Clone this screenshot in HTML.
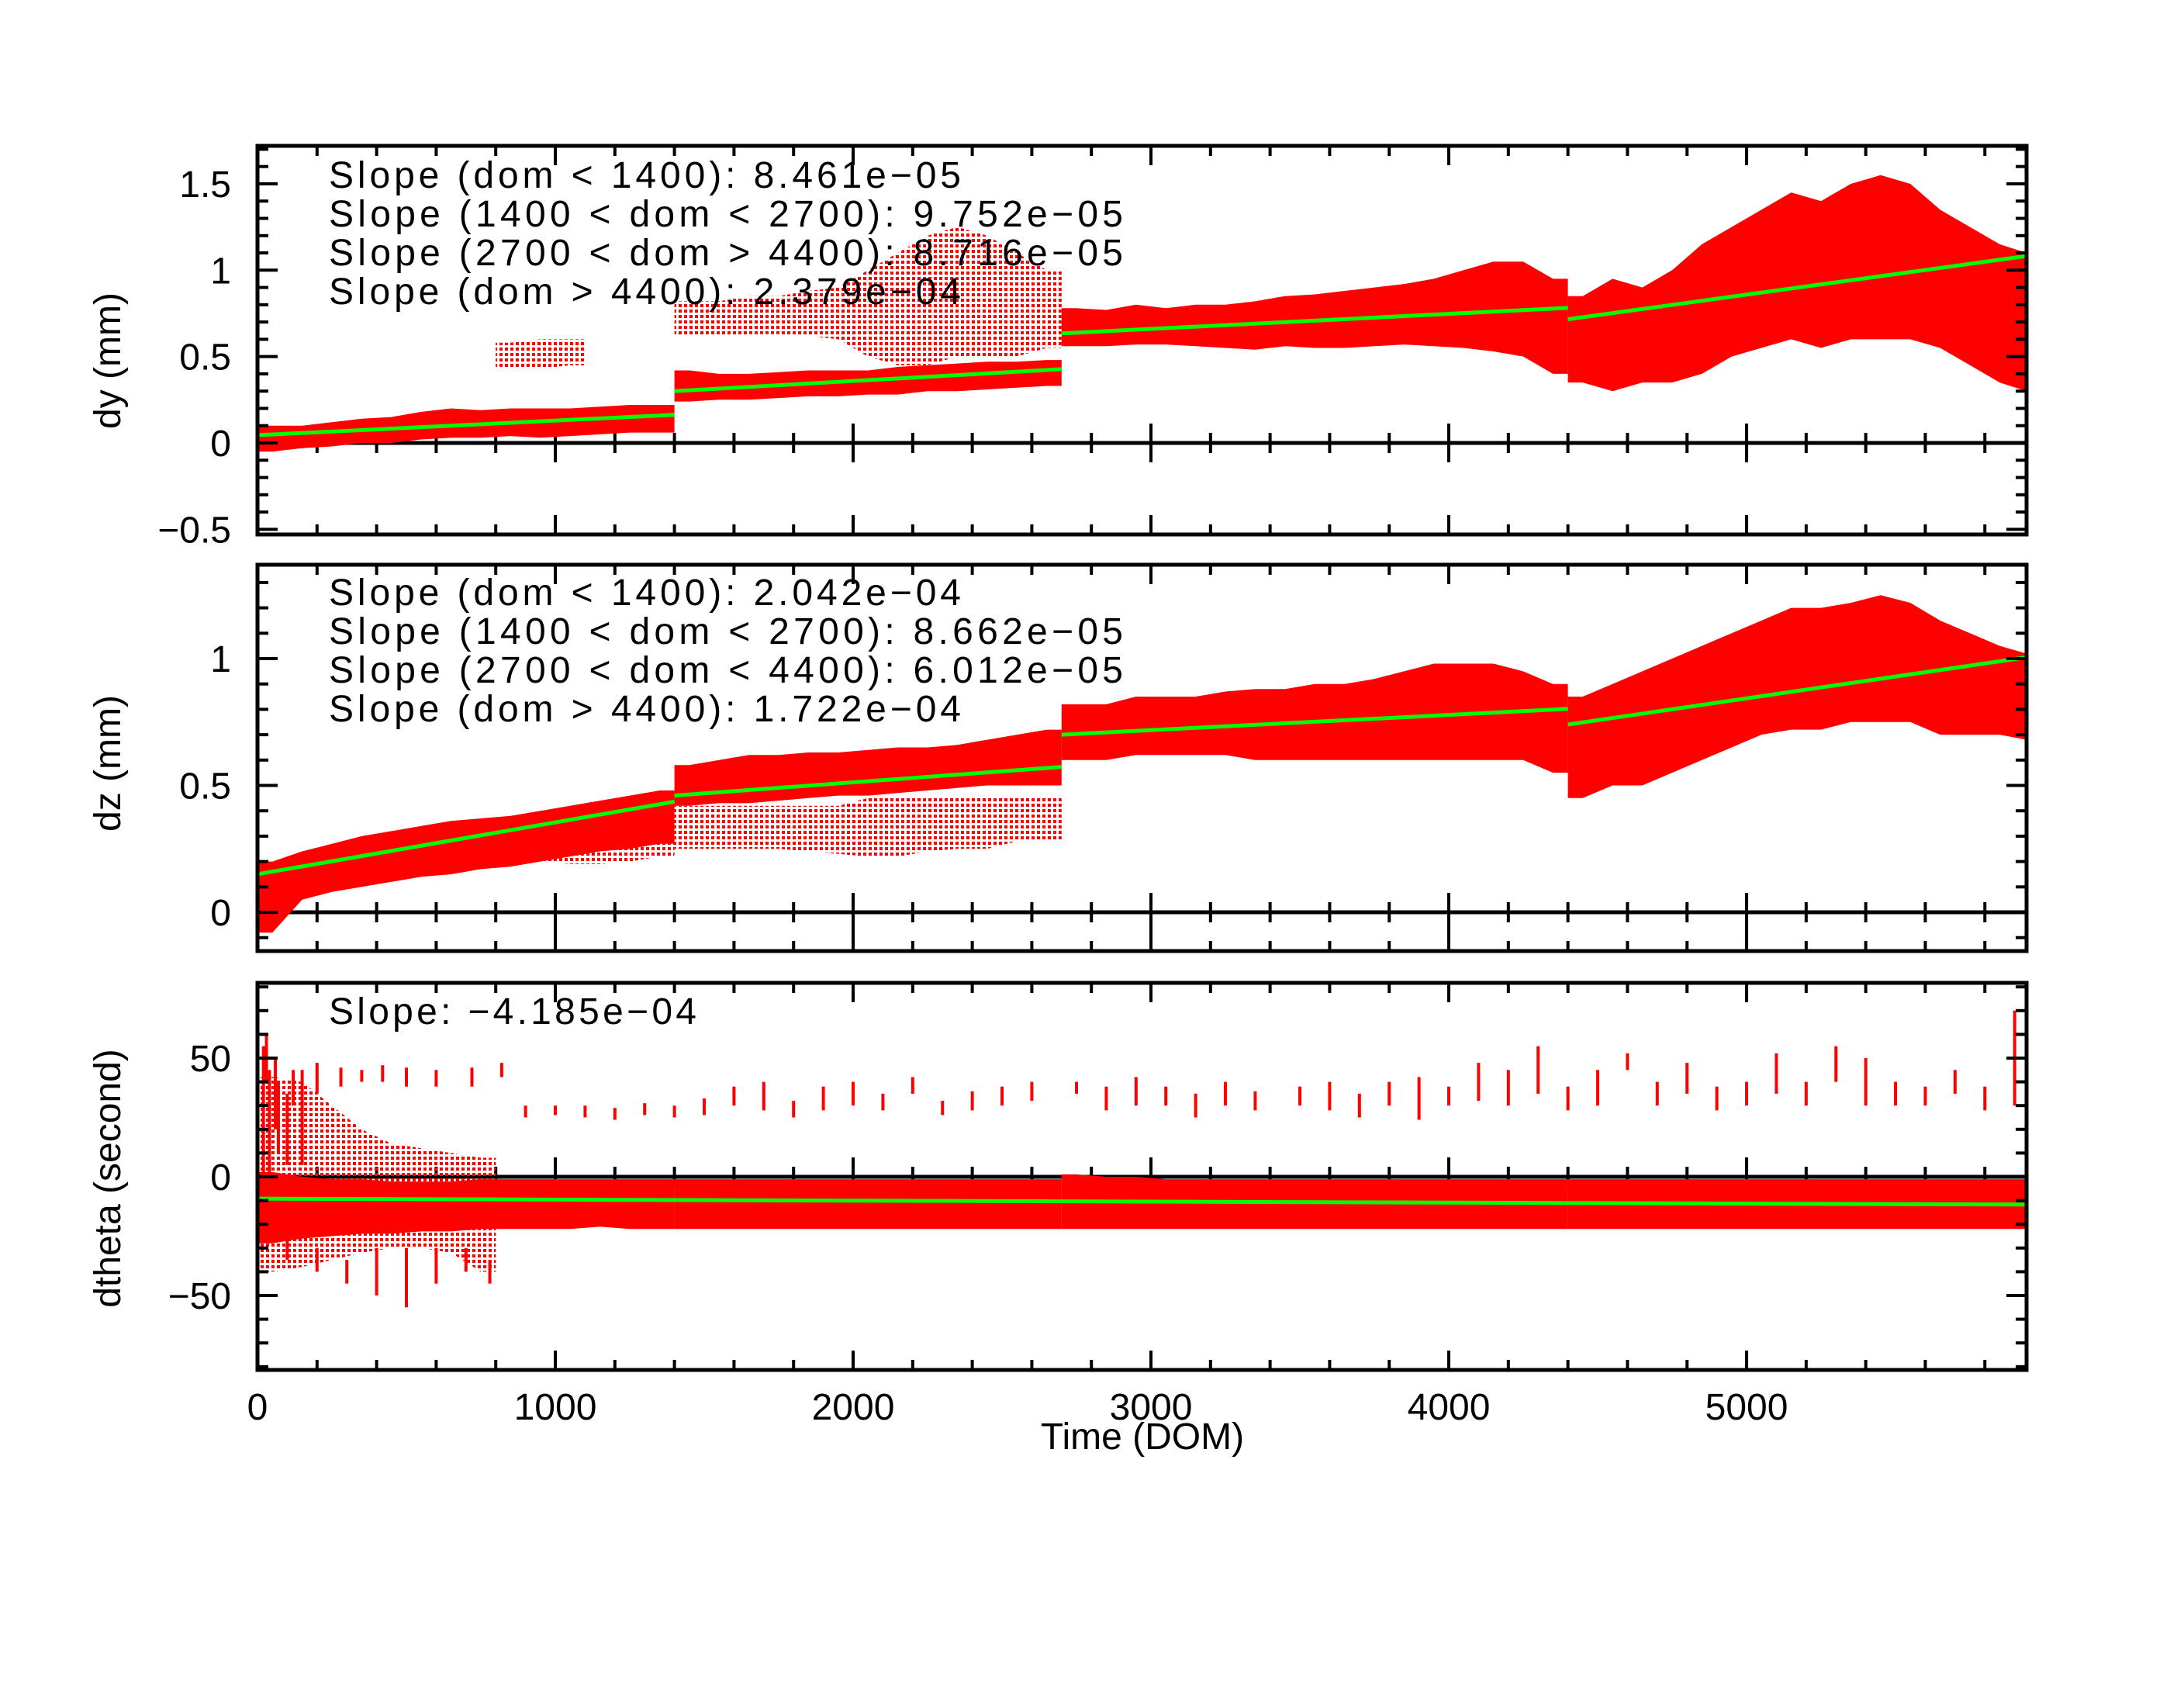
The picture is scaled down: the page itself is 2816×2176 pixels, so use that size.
<!DOCTYPE html>
<html><head><meta charset="utf-8">
<style>
html,body{margin:0;padding:0;background:#fff;}
svg{display:block;}
text{font-family:"Liberation Sans",sans-serif;fill:#000;}
</style></head>
<body>
<svg id="chart" width="2816" height="2176" viewBox="0 0 2816 2176" xmlns="http://www.w3.org/2000/svg">
<rect x="0" y="0" width="2816" height="2176" fill="#fff"/>
<g id="layer"></g>
</svg>
<script>
// ---- data (100-DOM bins, centers 50,150,...) ----
const binStart = 0, binWidth = 100;
const dyLo = [-0.05,-0.03,-0.02,0.0,0.0,0.02,0.03,0.03,0.04,0.03,0.04,0.05,0.06,0.06,
  0.24,0.25,0.25,0.26,0.27,0.27,0.28,0.28,0.3,0.3,0.31,0.32,0.33,
  0.56,0.56,0.57,0.57,0.56,0.55,0.54,0.56,0.55,0.55,0.56,0.57,0.56,0.55,0.53,0.5,0.4,
  0.35,0.3,0.35,0.35,0.4,0.5,0.55,0.6,0.55,0.6,0.6,0.6,0.55,0.45,0.35,0.3];
const dyHi = [0.1,0.1,0.12,0.14,0.15,0.18,0.2,0.19,0.2,0.2,0.2,0.21,0.22,0.22,
  0.42,0.4,0.4,0.41,0.42,0.42,0.42,0.44,0.45,0.46,0.47,0.47,0.48,
  0.78,0.77,0.8,0.78,0.8,0.8,0.82,0.85,0.86,0.88,0.9,0.92,0.95,1.0,1.05,1.05,0.95,
  0.85,0.95,0.9,1.0,1.15,1.25,1.35,1.45,1.4,1.5,1.55,1.5,1.35,1.25,1.15,1.1];
const dyCloudBins = [8,9,10,14,15,16,17,18,19,20,21,22,23,24,25,26];
const dyCloudLo = [0.43,0.43,0.45,0.62,0.62,0.63,0.63,0.62,0.6,0.5,0.45,0.45,0.5,0.5,0.5,0.55];
const dyCloudHi = [0.58,0.6,0.6,0.82,0.82,0.85,0.85,0.88,0.9,1.0,1.1,1.2,1.25,1.2,1.1,1.0];

const dzLo = [-0.08,0.05,0.08,0.1,0.12,0.14,0.15,0.17,0.18,0.2,0.22,0.24,0.25,0.27,
  0.42,0.43,0.43,0.44,0.45,0.46,0.46,0.47,0.48,0.49,0.5,0.5,0.5,
  0.6,0.6,0.62,0.62,0.62,0.62,0.6,0.6,0.6,0.6,0.6,0.6,0.6,0.6,0.6,0.6,0.55,
  0.45,0.5,0.5,0.55,0.6,0.65,0.7,0.72,0.72,0.75,0.75,0.75,0.7,0.7,0.7,0.68];
const dzHi = [0.2,0.24,0.27,0.3,0.32,0.34,0.36,0.37,0.38,0.4,0.42,0.44,0.46,0.48,
  0.58,0.6,0.62,0.62,0.63,0.63,0.64,0.65,0.65,0.66,0.68,0.7,0.72,
  0.82,0.82,0.85,0.85,0.85,0.87,0.88,0.88,0.9,0.9,0.92,0.95,0.98,0.98,0.98,0.95,0.9,
  0.85,0.9,0.95,1.0,1.05,1.1,1.15,1.2,1.2,1.22,1.25,1.22,1.15,1.1,1.05,1.02];
const dzCloudBins = [8,9,10,11,12,13,14,15,16,17,18,19,20,21,22,23,24,25,26];
const dzCloudLo = [0.2,0.2,0.19,0.19,0.2,0.22,0.25,0.25,0.25,0.25,0.24,0.23,0.22,0.22,0.24,0.25,0.25,0.28,0.28];
const dzCloudHi = [0.28,0.3,0.3,0.32,0.35,0.4,0.42,0.42,0.42,0.42,0.42,0.42,0.45,0.45,0.45,0.45,0.45,0.45,0.45];

const dthLo = [-28,-26,-25,-24,-24,-23,-23,-22,-22,-22,-22,-21,-22,-22,-22,-22,-22,-22,-22,-22,
  -22,-22,-22,-22,-22,-22,-22,-22,-22,-22,-22,-22,-22,-22,-22,-22,-22,-22,-22,-22,
  -22,-22,-22,-22,-22,-22,-22,-22,-22,-22,-22,-22,-22,-22,-22,-22,-22,-22,-22,-22];
const dthHi = [2,0,-1,-1,-2,-2,-2,-1,-1,-1,-1,-1,-1,-1,-1,-1,-1,-1,-1,-1,
  -1,-1,-1,-1,-1,-1,-1,1,0,0,-1,-1,-1,-1,-1,-1,-1,-1,-1,-1,
  -1,-1,-1,-1,-1,-1,-1,-1,-1,-1,-1,-1,-1,-1,-1,-1,-1,-1,-1,-1];
const dthCloudBins = [0,1,2,3,4,5,6,7];
const dthCloudLo = [-40,-38,-35,-32,-30,-30,-32,-40];
const dthCloudHi = [42,40,30,20,14,12,10,8];
const dthSpikeDom = [20,40,70,100,150,30,60,120,200,280,350,420,500,600,720,820,900,1000,1100,1200,1300,1400,1500,1600,1700,1800,1900,2000,2100,2200,2300,2400,2500,2600,2750,2850,2950,3050,3150,3250,3350,3500,3600,3700,3800,3900,4000,4100,4200,4300,4400,4500,4600,4700,4800,4900,5000,5100,5200,5300,5400,5500,5600,5700,5800,5900,
  100,200,300,400,500,600,700,780];
const dthSpikeLo = [0,-5,10,5,5,40,20,30,35,38,40,40,38,38,38,42,25,26,25,24,26,25,26,30,28,25,28,30,28,35,26,28,30,32,35,28,30,30,25,30,28,30,28,25,30,24,30,32,30,35,28,30,45,30,35,28,30,35,30,40,30,30,30,35,28,30,
  -35,-40,-45,-50,-55,-45,-40,-45];
const dthSpikeHi = [55,45,40,35,45,60,50,45,48,46,45,47,46,45,46,48,30,30,30,29,31,30,33,38,40,32,38,40,35,42,32,36,38,40,40,38,42,38,35,40,36,38,40,35,40,42,38,48,45,55,38,45,52,40,48,38,40,52,40,55,50,40,38,45,38,70,
  -20,-30,-35,-30,-30,-30,-30,-35];

const fitBreaks1 = [[0,1400,0.045,0.163],[1400,2700,0.30,0.427],[2700,4400,0.634,0.782],[4400,5940,0.716,1.082]];
const fitBreaks2 = [[0,1400,0.15,0.436],[1400,2700,0.46,0.573],[2700,4400,0.70,0.802],[4400,5940,0.74,1.005]];
const fitBreaks3 = [[0,5940,-9.2,-11.7]];

const xTicksMajor = [0,1000,2000,3000,4000,5000];
const xTickLabels = ["0","1000","2000","3000","4000","5000"];

// ---- geometry ----
const X0 = 332, XR = 2613, XMAX = 5940;
const sx = d => X0 + d * (XR - X0) / XMAX;
const panels = [
  {name:'dy', top:188, bot:689, y0:571, k:222.7, vmin:-0.53, vmax:1.72, major:0.5, minor:0.1, labels:[["−0.5",-0.5],["0",0],["0.5",0.5],["1",1],["1.5",1.5]], title:"dy (mm)", tcy:465},
  {name:'dz', top:728, bot:1226, y0:1176, k:327, vmin:-0.153, vmax:1.37, major:0.5, minor:0.1, labels:[["0",0],["0.5",0.5],["1",1]], title:"dz (mm)", tcy:984},
  {name:'dtheta', top:1267, bot:1766, y0:1517, k:3.06, vmin:-81.4, vmax:81.7, major:50, minor:10, labels:[["−50",-50],["0",0],["50",50]], title:"dtheta (second)", tcy:1519}
];
const NS = "http://www.w3.org/2000/svg";
const layer = document.getElementById('layer');
function mk(tag, attrs, parent){
  const e = document.createElementNS(NS, tag);
  for (const k in attrs) e.setAttribute(k, attrs[k]);
  (parent||layer).appendChild(e);
  return e;
}
function breakAt(b){ return b===14 || b===27 || b===44; }
function band(p, lo, hi, bins, parent, nm, dotted){
  const runs = [];
  let cur = null;
  for (let i=0;i<lo.length;i++){
    const b = bins ? bins[i] : i;
    if (cur && b === cur.last+1 && !breakAt(b)) { cur.idx.push(i); cur.last=b; }
    else { cur = {idx:[i], last:b}; runs.push(cur); }
  }
  runs.forEach(r=>{
    const top=[], bottom=[];
    const first = bins ? bins[r.idx[0]] : r.idx[0];
    const last = bins ? bins[r.idx[r.idx.length-1]] : r.idx[r.idx.length-1];
    const dStart = first*binWidth, dEnd = Math.min(XMAX,(last+1)*binWidth);
    top.push([sx(dStart), p.yv(hi[r.idx[0]])]);
    bottom.push([sx(dStart), p.yv(lo[r.idx[0]])]);
    r.idx.forEach(i=>{
      const b = bins ? bins[i] : i;
      const dc = Math.min(XMAX, b*binWidth + binWidth/2);
      top.push([sx(dc), p.yv(hi[i])]);
      bottom.push([sx(dc), p.yv(lo[i])]);
    });
    const li = r.idx[r.idx.length-1];
    top.push([sx(dEnd), p.yv(hi[li])]);
    bottom.push([sx(dEnd), p.yv(lo[li])]);
    const pts = top.concat(bottom.reverse()).map(q=>q[0].toFixed(1)+','+q[1].toFixed(1)).join(' ');
    const el = mk('polygon', {points:pts, fill: dotted ? 'url(#dots)' : '#ff0000'}, parent);
    
    
  });
}

const defs = mk('defs', {});
const pat = mk('pattern', {id:'dots', width:'7', height:'7', patternUnits:'userSpaceOnUse'}, defs);
mk('rect', {x:0,y:0,width:4,height:4,fill:'#ff0000'}, pat);

panels.forEach((p, pi)=>{
  p.yv = v => p.y0 - v * p.k;
  const g = mk('g', {});
  
  
  const clip = mk('clipPath', {id:'clip'+pi}, defs);
  mk('rect', {x:X0, y:p.top, width:XR-X0, height:p.bot-p.top}, clip);
  const zl = mk('line', {x1:X0, x2:XR, y1:p.y0, y2:p.y0, stroke:'#000', 'stroke-width':5}, g);
  
  
  for (let d=0; d<=XMAX; d+=200){
    const L = d%1000===0?25:13;
    mk('line', {x1:sx(d), x2:sx(d), y1:p.y0-L, y2:p.y0+L, stroke:'#000','stroke-width':4}, g);
  }
  const dg = mk('g', {'clip-path':'url(#clip'+pi+')'}, g);
  
  
  if (p.name==='dy'){
    band(p, dyCloudLo, dyCloudHi, dyCloudBins, dg, 'dy-outlier-cloud', true);
    band(p, dyLo, dyHi, null, dg, 'dy-scatter-band', false);
  } else if (p.name==='dz'){
    band(p, dzCloudLo, dzCloudHi, dzCloudBins, dg, 'dz-outlier-cloud', true);
    band(p, dzLo, dzHi, null, dg, 'dz-scatter-band', false);
  } else {
    band(p, dthCloudLo, dthCloudHi, dthCloudBins, dg, 'dtheta-early-cloud', true);
    for (let i=0;i<dthSpikeDom.length;i++){
      const y1 = p.yv(dthSpikeHi[i]), y2 = p.yv(dthSpikeLo[i]);
      const s = mk('rect', {x:sx(dthSpikeDom[i])-2, y:y1, width:4, height:y2-y1, fill:'#ff0000'}, dg);
      
      
    }
    band(p, dthLo, dthHi, null, dg, 'dtheta-scatter-band', false);
  }
  const fits = [fitBreaks1, fitBreaks2, fitBreaks3][pi];
  fits.forEach(f=>{
    const l = mk('line', {x1:sx(f[0]), x2:sx(f[1]), y1:p.yv(f[2]), y2:p.yv(f[3]), stroke:'#00ff00','stroke-width':5}, dg);
    
    
  });
  const fr = mk('rect', {x:X0, y:p.top, width:XR-X0, height:p.bot-p.top, fill:'none', stroke:'#000','stroke-width':5}, g);
  
  
  for (let d=0; d<=XMAX; d+=200){
    const L = d%1000===0?25:13;
    mk('line', {x1:sx(d), x2:sx(d), y1:p.top, y2:p.top+L, stroke:'#000','stroke-width':4}, g);
    mk('line', {x1:sx(d), x2:sx(d), y1:p.bot, y2:p.bot-L, stroke:'#000','stroke-width':4}, g);
  }
  const n0 = Math.ceil(p.vmin/p.minor - 1e-6), n1 = Math.floor(p.vmax/p.minor + 1e-6);
  for (let n=n0; n<=n1; n++){
    const v = n*p.minor;
    const maj = Math.abs(v/p.major - Math.round(v/p.major)) < 1e-6;
    const L = maj?26:14, y = p.yv(v);
    mk('line', {x1:X0, x2:X0+L, y1:y, y2:y, stroke:'#000','stroke-width':4}, g);
    mk('line', {x1:XR, x2:XR-L, y1:y, y2:y, stroke:'#000','stroke-width':4}, g);
  }
  p.labels.forEach(l=>{
    const t = mk('text', {x:298, y:p.yv(l[1])+17, 'text-anchor':'end', 'font-size':48}, g);
    t.textContent = l[0];
    
    
  });
  const tt = mk('text', {x:0, y:0, 'text-anchor':'middle', 'font-size':48, transform:'translate(155,'+p.tcy+') rotate(-90)'}, g);
  tt.textContent = p.title;
  
  
});

const ann1 = ["Slope (dom < 1400): 8.461e−05","Slope (1400 < dom < 2700): 9.752e−05","Slope (2700 < dom > 4400): 8.716e−05","Slope (dom > 4400): 2.379e−04"];
const ann2 = ["Slope (dom < 1400): 2.042e−04","Slope (1400 < dom < 2700): 8.662e−05","Slope (2700 < dom < 4400): 6.012e−05","Slope (dom > 4400): 1.722e−04"];
const annW = [815,1024,1024,815];
ann1.forEach((s,i)=>{
  const t = mk('text', {x:424, y:242+i*50, 'font-size':48, textLength:annW[i], lengthAdjust:'spacing'});
  t.textContent = s;
  
  
});
ann2.forEach((s,i)=>{
  const t = mk('text', {x:424, y:780+i*50, 'font-size':48, textLength:annW[i], lengthAdjust:'spacing'});
  t.textContent = s;
  
  
});
{
  const t = mk('text', {x:424, y:1320, 'font-size':48, textLength:474, lengthAdjust:'spacing'});
  t.textContent = "Slope: −4.185e−04";
  
  
}
xTicksMajor.forEach((d,i)=>{
  const t = mk('text', {x:sx(d), y:1830, 'text-anchor':'middle', 'font-size':48});
  t.textContent = xTickLabels[i];
  
  
});
{
  const t = mk('text', {x:1473, y:1868, 'text-anchor':'middle', 'font-size':48});
  t.textContent = "Time (DOM)";
  
  
}
</script>
</body></html>
